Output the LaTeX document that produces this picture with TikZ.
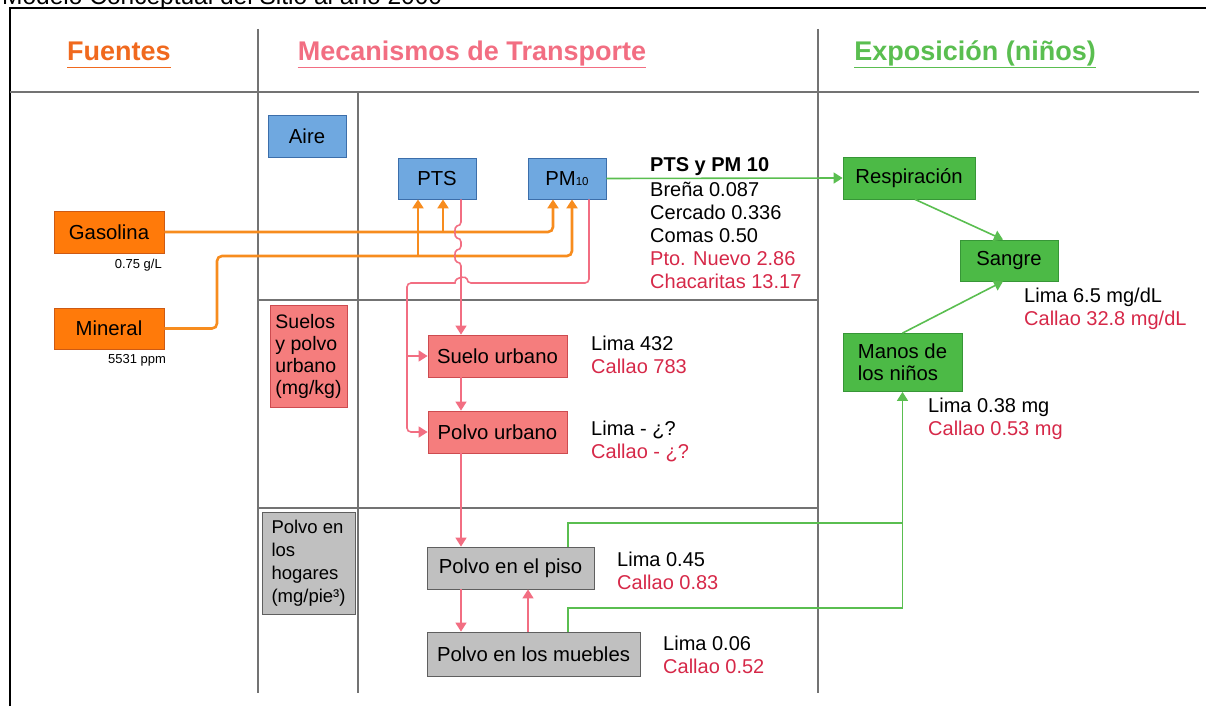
\documentclass[tikz,border=0pt]{standalone}
\usepackage{fontspec}
\setmainfont{Liberation Sans}
\usetikzlibrary{arrows.meta}
\definecolor{naranja}{RGB}{247,140,30}
\definecolor{naranjacaja}{RGB}{255,122,10}
\definecolor{naranjaborde}{RGB}{205,90,20}
\definecolor{titnaranja}{RGB}{240,105,30}
\definecolor{rosa}{RGB}{242,110,130}
\definecolor{rosacaja}{RGB}{245,125,125}
\definecolor{rosaborde}{RGB}{205,75,80}
\definecolor{azulcaja}{RGB}{111,168,224}
\definecolor{azulborde}{RGB}{60,110,170}
\definecolor{verde}{RGB}{90,190,80}
\definecolor{verdecaja}{RGB}{76,186,70}
\definecolor{verdeborde}{RGB}{55,150,55}
\definecolor{griscaja}{RGB}{192,192,192}
\definecolor{grisborde}{RGB}{95,95,95}
\definecolor{grislinea}{RGB}{115,115,115}
\definecolor{rojo}{RGB}{214,40,72}
\begin{document}
\begin{tikzpicture}[x=1pt,y=-1pt,>={Triangle[length=9pt,width=11pt]},
    caja/.style={draw,line width=0.8pt,inner sep=2pt,minimum height=42pt,font=\fontsize{20.3}{22}\selectfont},
    cajanaranja/.style={caja,fill=naranjacaja,draw=naranjaborde},
    cajarosa/.style={caja,fill=rosacaja,draw=rosaborde},
    cajaazul/.style={caja,fill=azulcaja,draw=azulborde},
    cajaverde/.style={caja,fill=verdecaja,draw=verdeborde},
    cajagris/.style={caja,fill=griscaja,draw=grisborde},
    dato/.style={anchor=north west,inner sep=0pt,align=left,font=\fontsize{20}{23}\selectfont},
    nota/.style={inner sep=0pt,font=\fontsize{13}{15}\selectfont},
    titulo/.style={anchor=base,inner sep=0pt,text depth=6.5pt,font=\bfseries\fontsize{27}{30}\selectfont},
    linea/.style={draw=grislinea,line width=1.4pt},
    flechanaranja/.style={draw=naranja,line width=2.6pt,->,rounded corners=5pt},
    flecharosa/.style={draw=rosa,line width=1.6pt,->,rounded corners=4pt},
    lineaverde/.style={draw=verde,line width=1.6pt},
    flechaverde/.style={lineaverde,->}]
\useasboundingbox (0,0) rectangle (1206,706);
\node[anchor=base west,inner sep=0pt,font=\fontsize{24.5}{28}\selectfont] (modelo) at (2,5) {Modelo Conceptual del Sitio al año 2000};
\draw[black,line width=1.3pt] (10,706) -- (10,8) -- (1206,8);
\draw[linea] (10,92) -- (1199,92);
\draw[linea] (258,29) -- (258,693);
\draw[linea] (818,29) -- (818,693);
\draw[linea] (358,92) -- (358,693);
\draw[linea] (258,300) -- (818,300);
\draw[linea] (258,508) -- (818,508);

\node[titulo,text=titnaranja] (fuentes) at (119,61) {Fuentes};
\node[titulo,text=rosa] (mecanismos) at (472,61) {Mecanismos de Transporte};
\node[titulo,text=verde] (exposicion) at (975,61) {Exposición (niños)};
\draw[titnaranja,line width=1pt] (fuentes.south west) -- (fuentes.south east);
\draw[rosa,line width=1pt] (mecanismos.south west) -- (mecanismos.south east);
\draw[verde,line width=1pt] (exposicion.south west) -- (exposicion.south east);

\node[cajaazul,minimum width=78pt] (aire) at (307,136) {Aire};
\node[cajaazul,minimum width=78pt,minimum height=41pt] (pts) at (437,178.5) {PTS};
\node[cajaazul,minimum width=78pt,minimum height=41pt] (pm) at (567,178.5) {PM{\fontsize{11.5}{11.5}\selectfont 10}};
\node[cajanaranja,minimum width=110pt] (gasolina) at (109,232) {Gasolina};
\node[cajanaranja,minimum width=110pt,minimum height=41pt] (mineral) at (109,328.5) {Mineral};
\node[cajarosa,minimum width=77pt,minimum height=102pt,align=left,font=\fontsize{19.5}{22}\selectfont] (suelos) at (308.5,356) {Suelos\\y polvo\\urbano\\(mg/kg)};
\node[cajarosa,minimum width=139pt] (suelo) at (497.5,356) {Suelo urbano};
\node[cajarosa,minimum width=139pt] (polvou) at (497.5,432) {Polvo urbano};
\node[cajagris,minimum width=93pt,minimum height=102pt,align=left,font=\fontsize{18.5}{23}\selectfont] (hogares) at (308.5,563) {Polvo en\\los\\hogares\\(mg/pie³)};
\node[cajagris,minimum width=167pt] (piso) at (510.5,568) {Polvo en el piso};
\node[cajagris,minimum width=213pt,minimum height=44pt] (muebles) at (533.5,654) {Polvo en los muebles};
\node[cajaverde,minimum width=132pt] (resp) at (909,178) {Respiración};
\node[cajaverde,minimum width=98pt,minimum height=41pt] (sangre) at (1009,260.5) {Sangre};
\node[cajaverde,minimum width=119pt,minimum height=58pt,align=left] (manos) at (902.5,362.5) {Manos de\\los niños};

\node[dato] (aireval) at (650,157) {{\bfseries\fontsize{20}{24}\selectfont PTS y PM 10}\\[2pt]Breña 0.087\\Cercado 0.336\\Comas 0.50\\\textcolor{rojo}{Pto. Nuevo 2.86}\\\textcolor{rojo}{Chacaritas 13.17}};
\node[dato] (sueloval) at (591,336) {Lima 432\\\textcolor{rojo}{Callao 783}};
\node[dato] (polvouval) at (591,421) {Lima - ¿?\\\textcolor{rojo}{Callao - ¿?}};
\node[dato] (pisoval) at (617,552) {Lima 0.45\\\textcolor{rojo}{Callao 0.83}};
\node[dato] (mueblesval) at (663,636) {Lima 0.06\\\textcolor{rojo}{Callao 0.52}};
\node[dato] (sangreval) at (1024,288) {Lima 6.5 mg/dL\\\textcolor{rojo}{Callao 32.8 mg/dL}};
\node[dato] (manosval) at (928,398) {Lima 0.38 mg\\\textcolor{rojo}{Callao 0.53 mg}};
\node[nota,anchor=north east] (gasval) at (162,259) {0.75 g/L};
\node[nota,anchor=north west] (minval) at (108,354) {5531 ppm};

\coordinate (ejeR) at (461,0);
\coordinate (ejeS) at (528,0);
\coordinate (ejeV) at (568,0);
\coordinate (ejeI) at (407,0);
\coordinate (codo) at (902.5,523);
\coordinate (codo2) at (902.5,608);

\draw[flechanaranja] (gasolina.east) -| ([xshift=-14pt]pm.south);
\draw[flechanaranja] (mineral.east) -| (217,256) -| ([xshift=5pt]pm.south);
\draw[flechanaranja] (443,232) -- ([xshift=6pt]pts.south);
\draw[flechanaranja] (418,256) -- ([xshift=-19pt]pts.south);

\draw[flecharosa] ([xshift=24pt]pts.south) -- (461,226) .. controls (454,226) and (454,238) .. (461,238)
    -- (461,250) .. controls (454,250) and (454,262) .. (461,262) -- (suelo.north -| ejeR);
\draw[flecharosa] ([xshift=22pt]pm.south) |- (467,283) [sharp corners] .. controls (467,276) and (455,276) .. (455,283)
    [rounded corners=4pt] -| (ejeI |- polvou.west) -- (polvou.west);
\draw[flecharosa] (ejeI |- suelo.west) -- (suelo.west);
\draw[flecharosa] (suelo.south -| ejeR) -- (polvou.north -| ejeR);
\draw[flecharosa] (polvou.south -| ejeR) -- (piso.north -| ejeR);
\draw[flecharosa] (piso.south -| ejeR) -- (muebles.north -| ejeR);
\draw[flecharosa] (muebles.north -| ejeS) -- (piso.south -| ejeS);

\draw[flechaverde] (pm.east) -- (resp.west);
\draw[flechaverde] ([xshift=6pt]resp.south) -- ([xshift=-6pt]sangre.north);
\draw[flechaverde] (manos.north) -- ([xshift=-6pt]sangre.south);
\draw[flechaverde] (piso.north -| ejeV) |- (codo) -- (manos.south);
\draw[lineaverde] (muebles.north -| ejeV) |- (codo2) -- (codo);
\end{tikzpicture}
\end{document}
